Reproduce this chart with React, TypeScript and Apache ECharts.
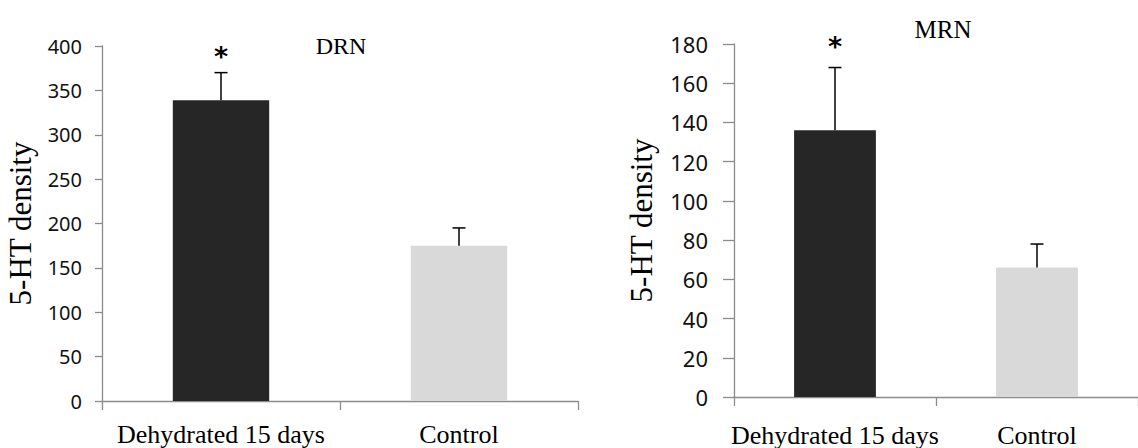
import React, { useEffect, useRef } from "react";
import * as echarts from "echarts";

const categories = ["Dehydrated 15 days", "Control"];

const drnTitle = "DRN";
const drnMeans = [339, 175];
const drnUpper = [370, 195];
const drnSig = ["*", ""];
const drnTicks = { min: 0, max: 400, interval: 50 };

const mrnTitle = "MRN";
const mrnMeans = [136, 66];
const mrnUpper = [168, 78];
const mrnSig = ["*", ""];
const mrnTicks = { min: 0, max: 180, interval: 20 };

const yTitle = "5-HT density";
const barColors = ["#262626", "#d9d9d9"];

const AXIS_COLOR = "#8c8c8c";
const SERIF = "'Liberation Serif', 'Times New Roman', serif";
const SANS = "'Noto Sans', 'Open Sans', sans-serif";

function errorSeries(gi: number, means: number[], upper: number[], sig: string[], starGap: number) {
  return {
    type: "custom",
    xAxisIndex: gi,
    yAxisIndex: gi,
    z: 5,
    data: means.map((m, i) => [i, m, upper[i]]),
    renderItem: (params: any, api: any) => {
      const base = api.coord([api.value(0), api.value(1)]);
      const top = api.coord([api.value(0), api.value(2)]);
      const cx = base[0];
      const children: any[] = [
        { type: "line", shape: { x1: cx, y1: base[1], x2: cx, y2: top[1] }, style: { stroke: "#000", lineWidth: 1.5 } },
        { type: "line", shape: { x1: cx - 6.5, y1: top[1], x2: cx + 6.5, y2: top[1] }, style: { stroke: "#000", lineWidth: 1.5 } },
      ];
      const s = sig[params.dataIndex];
      if (s) {
        children.push({
          type: "text",
          style: {
            text: s,
            x: cx,
            y: top[1] - starGap,
            align: "center",
            verticalAlign: "middle",
            fontSize: 27,
            fontWeight: "bold",
            fontFamily: "'DejaVu Sans', sans-serif",
            fill: "#000",
          },
        });
      }
      return { type: "group", children };
    },
  };
}

export default function App() {
  const ref = useRef<HTMLDivElement>(null);
  useEffect(() => {
    document.body.style.margin = "0";
    if (!ref.current) return;
    const chart = echarts.init(ref.current, undefined, { renderer: "svg" });
    const xAxisBase = (gi: number, margin: number) => ({
      type: "category",
      gridIndex: gi,
      data: categories,
      axisLine: { lineStyle: { color: AXIS_COLOR, width: 1.3 } },
      axisTick: { show: true, length: 9, alignWithLabel: false, lineStyle: { color: AXIS_COLOR, width: 1.3 } },
      axisLabel: { color: "#000", fontSize: 26, fontFamily: SERIF, margin, interval: 0 },
      splitLine: { show: false },
    });
    const yAxisBase = (gi: number, t: any, fs: number, margin: number, tickLen: number, nameGap: number) => ({
      type: "value",
      gridIndex: gi,
      min: t.min,
      max: t.max,
      interval: t.interval,
      name: yTitle,
      nameLocation: "middle",
      nameGap,
      nameTextStyle: { color: "#000", fontSize: 31, fontFamily: SERIF },
      axisLine: { show: true, lineStyle: { color: AXIS_COLOR, width: 1.3 } },
      axisTick: { show: true, length: tickLen, lineStyle: { color: AXIS_COLOR, width: 1.3 } },
      axisLabel: { color: "#111", fontSize: fs, fontFamily: SANS, margin },
      splitLine: { show: false },
    });
    const barSeries = (gi: number, means: number[]) => ({
      type: "bar",
      xAxisIndex: gi,
      yAxisIndex: gi,
      barWidth: "40.5%",
      data: means.map((v, i) => ({ value: v, itemStyle: { color: barColors[i] } })),
    });
    chart.setOption({
      animation: false,
      title: [
        { text: drnTitle, left: 336, top: 29, textAlign: "center", textStyle: { fontSize: 24, fontWeight: "normal", fontFamily: SERIF, color: "#000" } },
        { text: mrnTitle, left: 938, top: 12, textAlign: "center", textStyle: { fontSize: 25, fontWeight: "normal", fontFamily: SERIF, color: "#000" } },
      ],
      grid: [
        { left: 102, top: 46, width: 476, height: 355 },
        { left: 734, top: 44, width: 404, height: 356 },
      ],
      xAxis: [xAxisBase(0, 20), xAxisBase(1, 25)],
      yAxis: [yAxisBase(0, drnTicks, 20, 20, 7, 66), yAxisBase(1, mrnTicks, 22, 26, 11, 77)],
      series: [
        barSeries(0, drnMeans),
        errorSeries(0, drnMeans, drnUpper, drnSig, 16),
        barSeries(1, mrnMeans),
        errorSeries(1, mrnMeans, mrnUpper, mrnSig, 21),
      ],
    });
    return () => chart.dispose();
  }, []);
  return <div ref={ref} style={{ width: 1138, height: 448 }} />;
}
